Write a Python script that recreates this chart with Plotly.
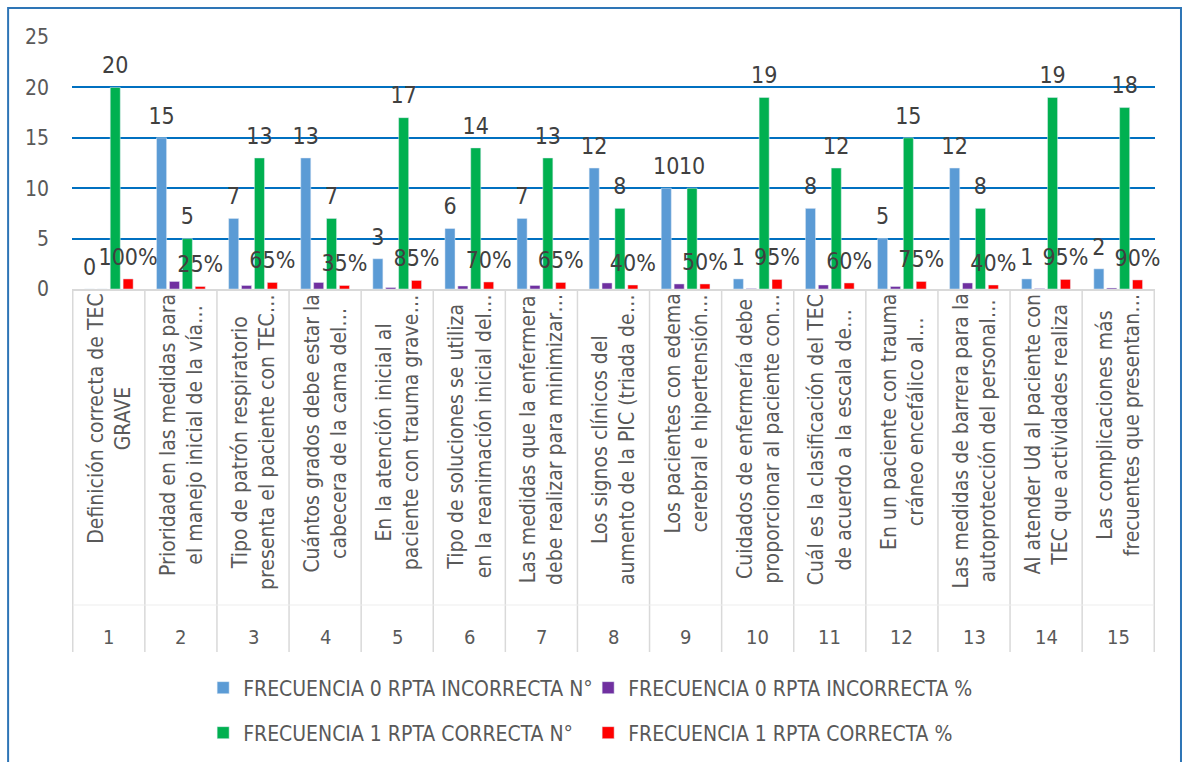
import plotly.graph_objects as go

# ---- data ----
numbers = [str(i) for i in range(1, 16)]
questions = [
    "Definición correcta de TEC<br>GRAVE",
    "Prioridad en las medidas para<br>el manejo inicial de la vía…",
    "Tipo de patrón respiratorio<br>presenta el paciente con TEC…",
    "Cuántos grados debe estar la<br>cabecera de la cama del…",
    "En la atención inicial al<br>paciente con trauma grave…",
    "Tipo de soluciones se utiliza<br>en la reanimación inicial del…",
    "Las medidas que la enfermera<br>debe realizar para minimizar…",
    "Los signos clínicos del<br>aumento de la PIC (triada de…",
    "Los pacientes con edema<br>cerebral e hipertensión…",
    "Cuidados de enfermería debe<br>proporcionar al paciente con…",
    "Cuál es la clasificación del TEC<br>de acuerdo a la escala de…",
    "En un paciente con trauma<br>cráneo encefálico al…",
    "Las medidas de barrera para la<br>autoprotección del personal…",
    "Al atender Ud al paciente con<br>TEC que actividades realiza",
    "Las complicaciones más<br>frecuentes que presentan…",
]
incorrect_n = [0, 15, 7, 13, 3, 6, 7, 12, 10, 1, 8, 5, 12, 1, 2]
incorrect_pct = [0.00, 0.75, 0.35, 0.65, 0.15, 0.30, 0.35, 0.60, 0.50, 0.05, 0.40, 0.25, 0.60, 0.05, 0.10]
correct_n = [20, 5, 13, 7, 17, 14, 13, 8, 10, 19, 12, 15, 8, 19, 18]
correct_pct = [1.00, 0.25, 0.65, 0.35, 0.85, 0.70, 0.65, 0.40, 0.50, 0.95, 0.60, 0.75, 0.40, 0.95, 0.90]

series_names = [
    "FRECUENCIA 0 RPTA INCORRECTA N°",
    "FRECUENCIA 0 RPTA INCORRECTA %",
    "FRECUENCIA 1 RPTA CORRECTA N°",
    "FRECUENCIA 1 RPTA CORRECTA %",
]
y_ticks = [0, 5, 10, 15, 20, 25]

FONT = "Liberation Sans Narrow, DejaVu Sans Condensed, Roboto, sans-serif"
colors = ["#5B9BD5", "#7030A0", "#00B050", "#FF0000"]
label_font = dict(family=FONT, size=23, color="#404040")
GAP = 0.285

series = [incorrect_n, incorrect_pct, correct_n, correct_pct]
label_fmt = ["%{y}", None, "%{y}", "%{y:.0%}"]
legends = ["legend", "legend", "legend2", "legend2"]

fig = go.Figure()
for k, (vals, name, col, lg) in enumerate(zip(series, series_names, colors, legends)):
    fig.add_bar(x=numbers, y=vals, name=name, marker_color=col, legend=lg,
                offsetgroup=f"g{k}", textposition="none", hoverinfo="x+y+name")
# data labels, aligned with the bars via grouped scatter offsets
for k, (vals, fmt) in enumerate(zip(series, label_fmt)):
    fig.add_scatter(x=numbers, y=vals, mode="markers+text", offsetgroup=f"g{k}",
                    marker=dict(size=12, opacity=0),
                    texttemplate=fmt if fmt else "", textposition="top center",
                    textfont=label_font, showlegend=False, hoverinfo="skip",
                    cliponaxis=False)

n = len(numbers)
# category labels (rotated) and numbers
for i, (num, q) in enumerate(zip(numbers, questions)):
    fig.add_annotation(x=i, y=0, xref="x", yref="paper", yanchor="top", yshift=-3,
                       text=q, textangle=-90, showarrow=False, align="center",
                       font=dict(family=FONT, size=21, color="#595959"))
    fig.add_annotation(x=i, y=-1.381, xref="x", yref="paper", yanchor="middle",
                       text=num, showarrow=False,
                       font=dict(family=FONT, size=20, color="#595959"))

# category separators
for i in range(n + 1):
    fig.add_shape(type="line", xref="x", yref="paper", x0=i - 0.5, x1=i - 0.5,
                  y0=0, y1=-1.44, line=dict(color="#D9D9D9", width=1.5))
fig.add_shape(type="line", xref="x", yref="paper", x0=-0.5, x1=n - 0.5,
              y0=-1.254, y1=-1.254, line=dict(color="#EDEDED", width=1))

# outer border
fig.add_shape(type="rect", xref="paper", yref="paper", x0=-0.059, x1=1.024,
              y0=-2.2, y1=1.115, line=dict(color="#2E75B6", width=2),
              fillcolor="rgba(0,0,0,0)", layer="below")

legend_common = dict(orientation="h", xref="container", yref="container",
                     x=0.171, xanchor="left", yanchor="middle",
                     entrywidth=340, entrywidthmode="pixels", itemwidth=30,
                     font=dict(family=FONT, size=21, color="#595959"),
                     bgcolor="rgba(0,0,0,0)")

fig.update_layout(
    width=1188, height=762,
    margin=dict(l=72, r=33, t=37, b=473),
    paper_bgcolor="white", plot_bgcolor="white",
    barmode="group", bargap=GAP, bargroupgap=0.22,
    scattermode="group", scattergap=GAP,
    font=dict(family=FONT, color="#595959"),
    legend=dict(y=1 - 688 / 762, **legend_common),
    legend2=dict(y=1 - 733 / 762, **legend_common),
    xaxis=dict(type="category", showticklabels=False, ticks="",
               showline=True, linecolor="#D9D9D9", linewidth=1.5,
               showgrid=False, fixedrange=True),
    yaxis=dict(range=[0, 25], tickvals=y_ticks, showgrid=True,
               gridcolor="#0070C0", gridwidth=2, zeroline=False,
               showline=False, ticklabelstandoff=22,
               tickfont=dict(family=FONT, size=21, color="#595959")),
)

fig.write_html("out.html")
